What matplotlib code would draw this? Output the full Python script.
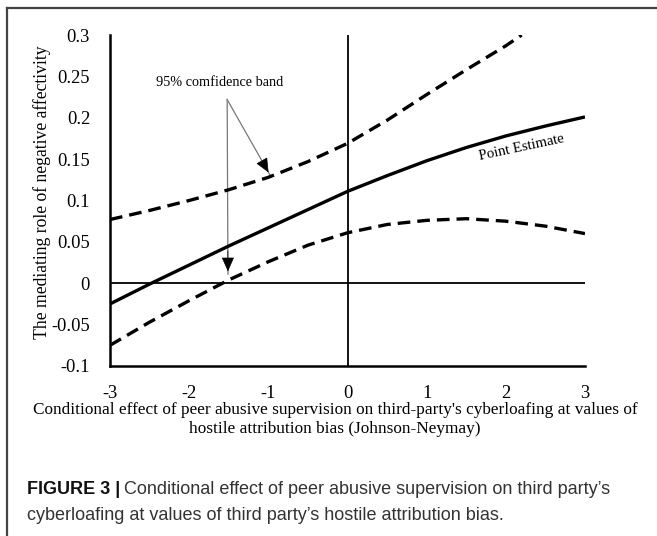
import numpy as np
import matplotlib.pyplot as plt
from matplotlib.lines import Line2D

# values
x_point = [-3, -2.5, -2, -1.5, -1, -0.5, 0, 0.5, 1, 1.5, 2, 2.5, 3]
y_point = [-0.025, -0.001, 0.022, 0.045, 0.067, 0.089, 0.111, 0.130, 0.148, 0.164, 0.178, 0.190, 0.201]

x_upper = [-3, -2.5, -2, -1.5, -1, -0.5, 0, 0.5, 1, 1.5, 2, 2.2]
y_upper = [0.077, 0.088, 0.100, 0.113, 0.128, 0.147, 0.169, 0.197, 0.228, 0.258, 0.287, 0.300]

x_lower = [-3, -2.5, -2, -1.5, -1, -0.5, 0, 0.5, 1, 1.5, 2, 2.5, 3]
y_lower = [-0.075, -0.047, -0.021, 0.004, 0.026, 0.046, 0.061, 0.071, 0.076, 0.078, 0.075, 0.069, 0.060]

x_ticks = [-3, -2, -1, 0, 1, 2, 3]
y_ticks = [-0.1, -0.05, 0, 0.05, 0.1, 0.15, 0.2, 0.25, 0.3]
y_ticklabels = ["-0.1", "-0.05", "0", "0.05", "0.1", "0.15", "0.2", "0.25", "0.3"]

serif = "Liberation Serif"

fig = plt.figure(figsize=(6.57, 5.36), dpi=100)
ax = fig.add_axes([110/657, 1-366/536, 475/657, 331/536])

# reference lines at zero
ax.axhline(0, color="black", lw=1.3, zorder=1)
ax.axvline(0, color="black", lw=1.3, zorder=1)

dash = (0, (3.8, 2.1))
ax.plot(x_point, y_point, color="black", lw=2.4, solid_capstyle="butt", zorder=3)
ax.plot(x_upper, y_upper, color="black", lw=2.4, ls=dash, zorder=3)
ax.plot(x_lower, y_lower, color="black", lw=2.4, ls=dash, zorder=3)

ax.set_xlim(-3, 3)
ax.set_ylim(-0.1, 0.3)
ax.set_xticks(x_ticks)
ax.set_xticklabels([str(t) for t in x_ticks])
ax.set_yticks(y_ticks)
ax.set_yticklabels(y_ticklabels)
ax.tick_params(length=0, labelsize=13.3)
ax.tick_params(axis="x", pad=14)
ax.tick_params(axis="y", pad=14.4)
for lab in ax.get_xticklabels() + ax.get_yticklabels():
    lab.set_fontfamily(serif)

for s in ["top", "right"]:
    ax.spines[s].set_visible(False)
for s in ["left", "bottom"]:
    ax.spines[s].set_linewidth(1.8)

ax.set_ylabel("The mediating role of negative affectivity", family=serif, fontsize=12.7)
ax.yaxis.set_label_coords(-0.125, 0.524)
ax.set_xlabel("Conditional effect of peer abusive supervision on third-party's cyberloafing at values of\n"
              "hostile attribution bias (Johnson-Neymay)", family=serif, fontsize=12.4,
              linespacing=1.25)
ax.xaxis.set_label_coords(0.474, -0.11)

# confidence band annotation
ax.text(-1.61, 0.243, "95% comfidence band", family=serif, fontsize=10.3, ha="center", va="center")
start = (-1.52, 0.222)
for end in [(-0.98, 0.131), (-1.51, 0.011)]:
    ax.plot([start[0], end[0]], [start[1], end[1]], color="#777777", lw=0.9, zorder=2)
    ax.annotate("", xy=end, xytext=(start[0] + 0.85*(end[0]-start[0]), start[1] + 0.85*(end[1]-start[1])),
                arrowprops=dict(arrowstyle="-|>,head_length=0.9,head_width=0.4", color="black", lw=0.5),
                zorder=4)

ax.text(2.2, 0.164, "Point Estimate", family=serif, fontsize=10.6, rotation=12, ha="center", va="center")

# frame lines (top and left only)
fig.add_artist(Line2D([7/657, 1], [1-8/536, 1-8/536], transform=fig.transFigure, color="#444444", lw=1.6))
fig.add_artist(Line2D([7/657, 7/657], [0, 1-8/536], transform=fig.transFigure, color="#444444", lw=1.6))

cap_font = "Liberation Sans"
t1 = fig.text(27/657, 1-489/536, "FIGURE 3 |", family=cap_font, fontsize=13, weight="bold",
              va="center", color="#111111")
fig.canvas.draw()
bb = t1.get_window_extent()
fig.text((bb.x1 + 4)/657, 1-489/536, "Conditional effect of peer abusive supervision on third party\u2019s",
         family=cap_font, fontsize=13, va="center", color="#333333")
fig.text(27/657, 1-516/536, "cyberloafing at values of third party\u2019s hostile attribution bias.",
         family=cap_font, fontsize=13, va="center", color="#333333")

fig.savefig("out.png", dpi=100)
